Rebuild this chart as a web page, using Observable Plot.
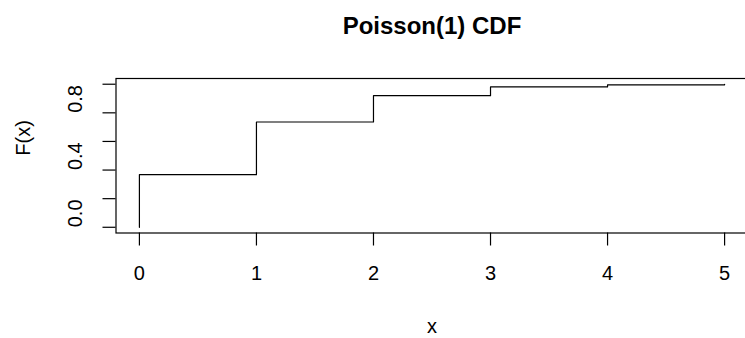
<!DOCTYPE html>
<html>
<head>
<meta charset="utf-8">
<script src="https://cdn.jsdelivr.net/npm/d3@7"></script>
<script src="https://cdn.jsdelivr.net/npm/@observablehq/plot@0.6"></script>
<style>
  html, body { margin: 0; padding: 0; background: white; overflow: hidden; }
  #chart { width: 745px; height: 338px; overflow: hidden; }
  #chart svg { max-width: none !important; display: block; }
</style>
</head>
<body>
<div id="chart"></div>
<script>
// Data: Poisson(1) CDF drawn as a step function
const xs = [0, 0, 1, 2, 3, 4, 5];
const Fx = [0, 0.368, 0.736, 0.920, 0.981, 0.996, 0.999];
const xTicks = [0, 1, 2, 3, 4, 5];
const yTicks = [0, 0.2, 0.4, 0.6, 0.8, 1.0];
const yLabels = [0, 0.4, 0.8];
const title = "Poisson(1) CDF";
const xLabel = "x";
const yLabel = "F(x)";

const data = xs.map((x, i) => ({x, F: Fx[i]}));

const font = "'Liberation Sans', Arial, Helvetica, sans-serif";

const chart = Plot.plot({
  width: 750,
  height: 338,
  marginLeft: 115.5,
  marginRight: 2.5,
  marginTop: 78,
  marginBottom: 105.5,
  style: {fontFamily: font, fontSize: "20px", background: "white", color: "black", overflow: "hidden", maxWidth: "none"},
  x: {domain: [-0.2, 5.2]},
  y: {domain: [-0.04, 1.04]},
  marks: [
    Plot.frame({stroke: "black", strokeWidth: 1.2}),
    Plot.axisX({ticks: xTicks, tickSize: 13, tickPadding: 20, tickFormat: d => String(d), label: null, fontSize: 20, strokeWidth: 1.2}),
    Plot.axisY({ticks: yTicks, tickSize: 13, tickFormat: () => "", label: null, strokeWidth: 1.2}),
    Plot.text(yLabels, {y: d => d, text: d => d.toFixed(1), frameAnchor: "left", dx: -34, rotate: -90, lineAnchor: "bottom", fontSize: 20, fill: "black"}),
    Plot.line(data, {x: "x", y: "F", curve: "step-after", stroke: "black", strokeWidth: 1.2}),
    Plot.text([title], {frameAnchor: "top", dy: -45, lineAnchor: "bottom", fontSize: 24, fontWeight: "bold", fill: "black"}),
    Plot.text([xLabel], {frameAnchor: "bottom", dy: 100, lineAnchor: "bottom", fontSize: 20, fill: "black"}),
    Plot.text([yLabel], {frameAnchor: "left", dx: -86, rotate: -90, lineAnchor: "bottom", fontSize: 20, fill: "black"})
  ]
});
chart.style.maxWidth = "none";
document.getElementById("chart").appendChild(chart);
</script>
</body>
</html>
